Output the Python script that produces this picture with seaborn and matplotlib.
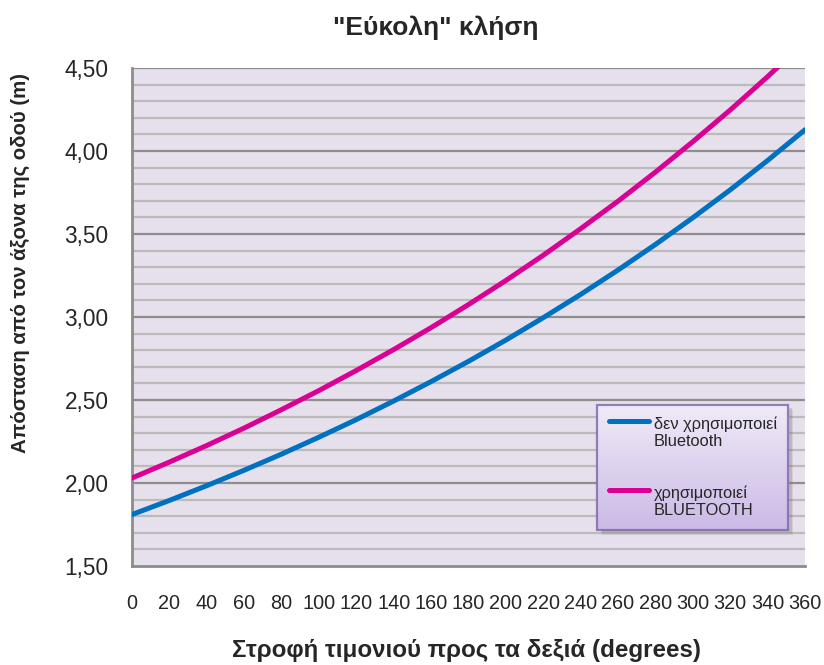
import numpy as np
import pandas as pd
import matplotlib
matplotlib.use("Agg")
import matplotlib.pyplot as plt
import matplotlib.patches as mpatches
from matplotlib.colors import LinearSegmentedColormap
import seaborn as sns

# ---- data ----
degrees = [0, 20, 40, 60, 80, 100, 120, 140, 160, 180, 200, 220, 240, 260, 280, 300, 320, 340, 360]
no_bt = [1.81, 1.895, 1.984, 2.077, 2.174, 2.276, 2.382, 2.494, 2.611, 2.733, 2.861, 2.996,
         3.136, 3.283, 3.437, 3.598, 3.766, 3.943, 4.128]
with_bt = [2.03, 2.126, 2.226, 2.331, 2.442, 2.557, 2.678, 2.804, 2.936, 3.075, 3.220, 3.372,
           3.532, 3.698, 3.873, 4.056, 4.247, 4.448, 4.658]
series_names = ["δεν χρησιμοποιεί\nBluetooth", "χρησιμοποιεί\nBLUETOOTH"]
y_ticks = [1.5, 2.0, 2.5, 3.0, 3.5, 4.0, 4.5]
y_tick_labels = ["1,50", "2,00", "2,50", "3,00", "3,50", "4,00", "4,50"]
x_ticks = list(range(0, 361, 20))
title = '"Εύκολη" κλήση'
xlabel = "Στροφή τιμονιού προς τα δεξιά (degrees)"
ylabel = "Απόσταση από τον άξονα της οδού (m)"

df = pd.concat([
    pd.DataFrame({"deg": degrees, "val": no_bt, "series": series_names[0]}),
    pd.DataFrame({"deg": degrees, "val": with_bt, "series": series_names[1]}),
])

sns.set_style("white")
plt.rcParams["font.family"] = ["Liberation Sans", "DejaVu Sans"]

fig = plt.figure(figsize=(8.24, 6.65), dpi=100)
ax = fig.add_axes([132 / 824, 1 - 566 / 665, 673 / 824, 498 / 665])
ax.set_facecolor("#E6E0EC")

sns.lineplot(data=df, x="deg", y="val", hue="series", palette=["#0070C0", "#DA0093"],
             linewidth=3.6, ax=ax, legend=False, zorder=3)

ax.set_xlim(0, 360)
ax.set_ylim(1.5, 4.5)

# grid lines
for v in np.arange(1.6, 4.51, 0.1):
    major = abs((v * 2) - round(v * 2)) < 1e-6
    ax.axhline(v, color="#8E8E8E" if major else "#BBBBBB", lw=1.6, zorder=1)

ax.set_yticks(y_ticks)
ax.set_yticklabels(y_tick_labels, fontsize=16.3)
ax.set_xticks(x_ticks)
ax.set_xticklabels([str(t) for t in x_ticks], fontsize=14.3)
ax.tick_params(axis="x", length=0, pad=20)
ax.tick_params(axis="y", length=0, pad=17)

for s in ["top", "right"]:
    ax.spines[s].set_visible(False)
for s in ["left", "bottom"]:
    ax.spines[s].set_color("#8C8C8C")
    ax.spines[s].set_linewidth(2)

ax.set_xlabel("")
ax.set_ylabel("")

fig.text(436 / 824, 1 - 28 / 665, title, ha="center", va="center", fontsize=19, fontweight="bold")
fig.text(466 / 824, 1 - 650 / 665, xlabel, ha="center", va="center", fontsize=17.4, fontweight="bold")
fig.text(20 / 824, 1 - 263 / 665, ylabel, ha="center", va="center", rotation=90,
         fontsize=14.7, fontweight="bold")

handles = ax.get_lines()[:2]
leg = ax.legend(handles, series_names, loc="upper left", bbox_to_anchor=(0.691, 0.3233),
                borderaxespad=0, fontsize=11.8, frameon=True, fancybox=False, shadow=False,
                handlelength=2.45, labelspacing=2.2, borderpad=0.7, handletextpad=0.3)
frame = leg.get_frame()
frame.set_facecolor("none")
frame.set_edgecolor("#7F63A8")
frame.set_linewidth(1.6)
leg.set_zorder(6)
# align each legend line with the first text line of its label
for h in leg.legend_handles:
    h.set_ydata(np.asarray(h.get_ydata(), dtype=float) + 0.55 * 11.8 * 100 / 72)

# gradient background + soft shadow behind the legend box
fig.canvas.draw()
bb = leg.get_window_extent().transformed(ax.transAxes.inverted())
for off, a in [(0.010, 0.18), (0.007, 0.25)]:
    ax.add_patch(mpatches.Rectangle((bb.x0 + off * 0.75, bb.y0 - off), bb.width, bb.height,
                                    transform=ax.transAxes, facecolor="#7A7A7A", alpha=a,
                                    edgecolor="none", zorder=4))
grad = np.linspace(0, 1, 256).reshape(-1, 1)
cmap = LinearSegmentedColormap.from_list("lg", ["#F0EAF8", "#CBBAE6"])
ax.imshow(grad, cmap=cmap, aspect="auto", transform=ax.transAxes,
          extent=(bb.x0, bb.x1, bb.y0, bb.y1), zorder=4.5, interpolation="bilinear")
ax.set_xlim(0, 360)
ax.set_ylim(1.5, 4.5)

fig.savefig("out.png", dpi=100)
